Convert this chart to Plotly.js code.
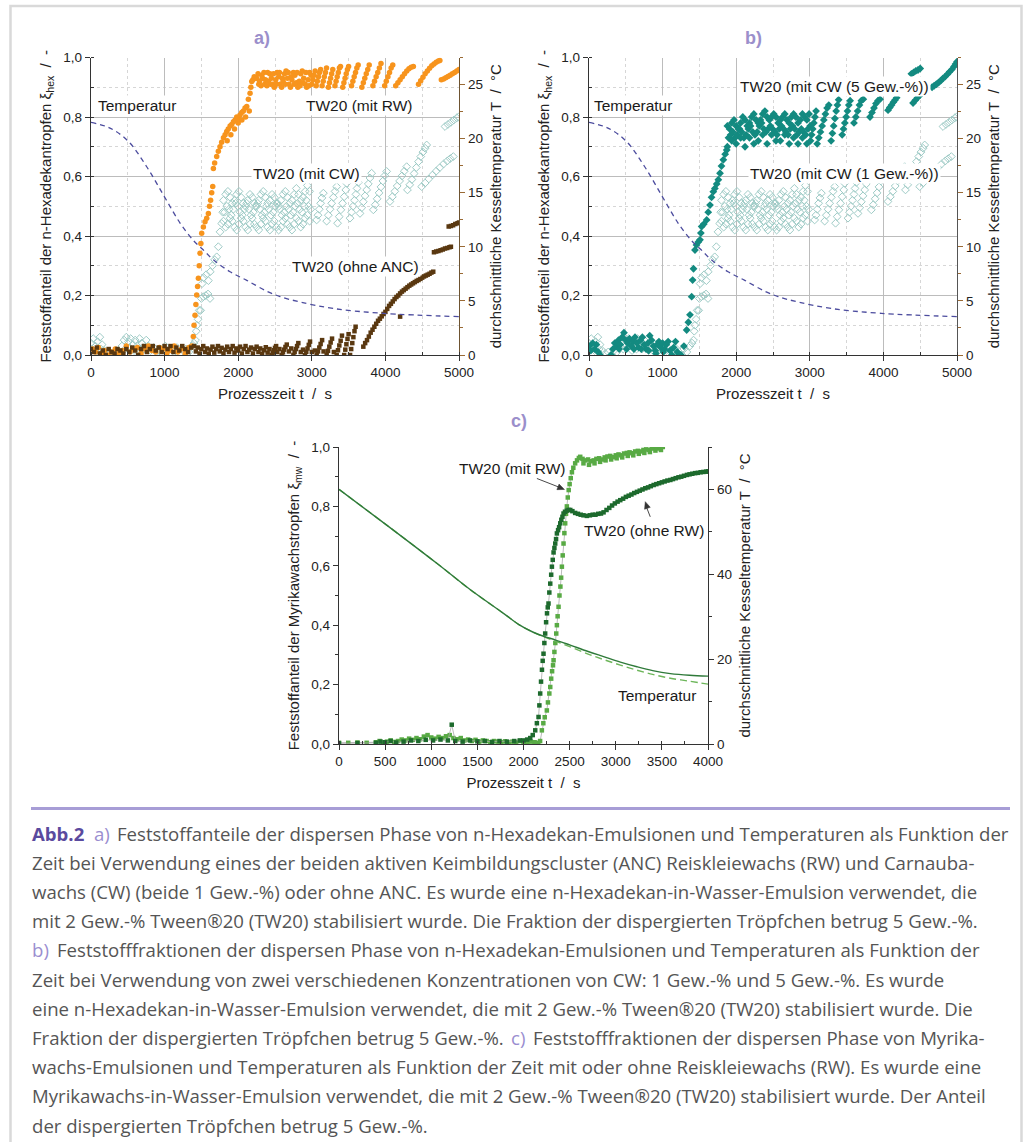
<!DOCTYPE html>
<html><head><meta charset="utf-8">
<script src="https://cdn.plot.ly/plotly-3.0.1.min.js"></script>
<style>html,body{margin:0;padding:0;background:#fff}#chart{width:1032px;height:1142px}</style>
</head><body><div id="chart"></div>
<script>
// ---------- DATA ----------
// a) TW20 (mit RW): [t s, xi_hex]
const A_RW = [[20,.02],[60,.01],[100,.025],[140,.005],[180,.015],[230,0],[280,.01],[330,.02],[380,.005],[430,.015],[480,.03],[530,.01],[580,.02],[630,.025],[680,.005],[730,.02],[780,.03],[830,.015],[880,.01],[930,.025],[980,.02],[1030,.005],[1080,.015],[1130,.03],[1180,.01],[1230,.02],[1280,.005],[1330,.025],[1370,.03],
[1390,.062],[1400,.1],[1413,.134],[1425,.17],[1436,.202],[1448,.23],[1459,.258],[1470,.3],[1481,.342],[1493,.375],[1504,.409],[1527,.43],[1549,.448],[1572,.46],[1595,.476],[1610,.5],[1625,.52],[1640,.545],[1654,.566],[1663,.627],[1680,.645],[1708,.667],[1730,.685],[1753,.7],[1775,.715],[1800,.73],[1822,.74],[1844,.751],[1850,.72],[1865,.76],[1890,.77],[1900,.74],[1912,.775],[1935,.784],[1950,.76],[1958,.79],[1980,.8],[2000,.78],[2003,.795],[2025,.807],[2048,.815],[2050,.79],[2070,.82],[2093,.83],[2100,.8],[2116,.835],[2138,.86],[2150,.82],[2161,.88],[2172,.9],[2184,.919],[2200,.925],[2218,.935],[2235,.93],[2252,.93],
[2270,.945],[2280,.91],[2290,.92],[2310,.905],[2320,.94],[2330,.93],[2350,.95],[2360,.91],[2370,.925],[2390,.905],[2400,.95],[2410,.92],[2430,.945],[2440,.91],[2450,.93],[2470,.91],[2480,.945],[2490,.9],[2510,.925],[2520,.91],[2530,.95],[2550,.935],[2560,.95],[2570,.91],[2590,.9],[2600,.93],[2610,.92],[2630,.945],[2640,.91],[2650,.955],[2670,.93],[2680,.95],[2690,.91],[2710,.9],[2720,.935],[2730,.925],[2750,.95],[2760,.91],[2770,.94],[2790,.915],[2800,.95],[2810,.9],[2830,.92],[2840,.905],[2850,.945],[2870,.955],[2880,.915],[2890,.93],[2910,.91],[2920,.95],[2930,.9],[2950,.925],[2960,.905],[2970,.95],[2990,.94],
[3000,.91],[3015,.925],[3030,.94],[3045,.955],
[3060,.905],[3075,.92],[3090,.935],[3105,.95],[3120,.96],
[3140,.905],[3155,.92],[3170,.935],[3185,.95],[3200,.965],
[3225,.9],[3240,.915],[3255,.93],[3270,.945],[3285,.96],
[3315,.905],[3330,.92],[3345,.935],[3360,.95],[3375,.965],[3390,.97],
[3420,.9],[3436,.915],[3452,.93],[3468,.945],[3484,.96],[3500,.97],
[3540,.905],[3558,.92],[3576,.935],[3594,.95],[3612,.965],[3630,.975],
[3680,.9],[3700,.915],[3720,.93],[3740,.945],[3760,.96],[3780,.975],
[3830,.905],[3852,.92],[3874,.935],[3896,.95],[3918,.965],[3940,.98],
[3990,.905],[4012,.92],[4034,.935],[4056,.95],[4078,.965],[4100,.975],
[4140,.905],[4170,.915],[4200,.925],[4230,.935],[4260,.945],[4290,.955],[4320,.962],[4350,.967],[4380,.97],
[4450,.91],[4480,.922],[4510,.934],[4540,.945],[4570,.955],[4600,.964],[4630,.972],[4660,.978],[4690,.984],[4720,.988],[4740,.99],
[4760,.925],[4790,.928],[4820,.932],[4850,.936],[4880,.94],[4910,.945],[4940,.95],[4970,.955],[5000,.96]];

// a) + b) TW20 (mit CW, 1 Gew.-%)
const CW1 = [[0,.04],[15,.02],[30,.055],[60,.03],[75,.015],[90,.045],[120,.06],[135,.02],[150,.035],[180,.015],[220,.005],[260,.01],[300,0],[340,.015],[380,.01],[420,.03],[450,.05],[465,.02],[480,.06],[510,.045],[525,.025],[540,.055],[570,.035],[585,.015],[600,.05],[630,.03],[645,.02],[660,.055],[690,.04],[705,.025],[720,.02],[750,.05],[780,.03],[810,.015],[850,.025],[890,.01],[930,.02],[970,.005],[1010,.03],[1050,.015],[1090,.02],[1130,.01],[1170,.025],[1210,.005],[1250,.015],[1290,.02],[1330,.01],[1370,.03],
[1400,.04],[1420,.05],[1430,.08],[1440,.1],[1455,.12],[1470,.15],[1490,.15],[1500,.19],[1510,.24],[1527,.196],[1530,.26],[1560,.2],[1565,.27],[1590,.205],[1595,.25],[1617,.19],[1620,.28],[1650,.3],[1680,.32],[1708,.33],[1730,.364],[1753,.414],[1776,.442],[1790,.48],
[1800,.52],[1830,.54],[1860,.55],[1890,.53],[1920,.51],[1950,.52],[1980,.54],[2010,.55],[2040,.53],[2070,.51],[2100,.5],[2130,.52],[2160,.54],[2190,.53],[2220,.51],[2250,.5],[2280,.52],[2310,.54],[2340,.55],[2370,.53],[2400,.51],[2430,.52],[2460,.54],[2490,.53],[2520,.51],[2550,.5],[2580,.52],[2610,.54],[2640,.55],[2670,.53],[2700,.51],[2730,.52],[2760,.54],[2790,.56],[2820,.54],[2850,.52],[2880,.53],[2910,.55],[2940,.57],[2970,.55],
[1815,.48],[1845,.5],[1875,.49],[1905,.47],[1935,.49],[1965,.51],[1995,.5],[2025,.48],[2055,.47],[2085,.49],[2115,.51],[2145,.49],[2175,.47],[2205,.48],[2235,.5],[2265,.51],[2295,.49],[2325,.47],[2355,.48],[2385,.5],[2415,.49],[2445,.47],[2475,.48],[2505,.5],[2535,.51],[2565,.49],[2595,.47],[2625,.48],[2655,.5],[2685,.49],[2715,.47],[2745,.48],[2775,.5],[2805,.51],[2835,.49],[2865,.48],[2895,.5],[2925,.52],[2955,.5],[2985,.49],
[1800,.45],[1830,.43],[1860,.44],[1890,.46],[1920,.45],[1950,.43],[1980,.42],[2010,.44],[2040,.46],[2070,.45],[2100,.43],[2130,.42],[2160,.44],[2190,.46],[2220,.44],[2250,.43],[2280,.42],[2310,.44],[2340,.46],[2370,.45],[2400,.43],[2430,.42],[2460,.44],[2490,.45],[2520,.43],[2550,.42],[2580,.43],[2610,.45],[2640,.46],[2670,.44],[2700,.43],[2730,.42],[2760,.44],[2790,.46],[2820,.45],[2850,.43],[2880,.44],[2910,.46],[2940,.47],[2970,.45],
[3066,.454],[3084,.47],[3102,.49],[3120,.51],[3138,.528],[3157,.544],
[3202,.45],[3225,.47],[3248,.49],[3270,.51],[3293,.53],[3316,.55],[3338,.566],
[3350,.443],[3372,.465],[3395,.488],[3418,.51],[3440,.532],[3462,.555],[3474,.577],
[3519,.46],[3540,.48],[3560,.5],[3580,.52],[3600,.54],[3615,.56],[3632,.58],
[3655,.476],[3678,.495],[3700,.515],[3723,.535],[3746,.555],[3768,.575],[3790,.595],[3813,.611],
[3836,.488],[3862,.505],[3888,.525],[3914,.545],[3940,.565],[3966,.585],[3992,.603],[4017,.617],
[4062,.516],[4095,.532],[4128,.55],[4160,.568],[4193,.585],[4225,.602],[4257,.618],[4289,.633],
[4300,.555],[4330,.572],[4360,.59],[4390,.61],[4420,.63],[4450,.65],[4480,.667],[4510,.682],[4540,.695],[4561,.706],
[4493,.566],[4540,.578],[4590,.592],[4640,.605],[4690,.618],[4740,.63],[4790,.642],[4840,.652],[4880,.66],[4923,.667],
[4810,.768],[4850,.775],[4890,.782],[4930,.79],[4970,.797],[4991,.8]];

// a) TW20 (ohne ANC)
const A_ANC = [[0,.02],[40,.01],[80,.025],[120,.005],[160,.015],[200,0],[240,.02],[280,.01],[320,.005],[360,.02],[400,.015],[440,.005],[480,.02],[520,.01],[560,.025],[600,.015],[640,0],[680,.02],[720,.03],[760,.01],[800,.02],[840,.03],[880,.015],[920,.025],[960,.01],[1000,.03],[1040,.02],[1080,.03],[1120,.01],[1160,.025],[1200,.015],[1240,.03],[1280,.02],[1320,.01],[1360,.025],
[1400,.03],[1425,.012],[1450,.025],[1475,.005],[1500,.02],[1525,.03],[1550,.01],[1575,.022],[1600,.004],[1625,.018],[1650,.028],[1675,.008],[1700,.02],[1725,.03],[1750,.012],[1775,.024],[1800,.005],[1825,.018],[1850,.028],[1875,.01],[1900,.02],[1925,.03],[1950,.008],[1975,.022],[2000,.015],[2025,.028],[2050,.005],[2075,.02],[2100,.03],[2125,.01],[2150,.018],[2175,.025],[2200,.005],[2225,.02],[2250,.028],[2275,.01],[2300,.022],[2325,.004],[2350,.016],[2375,.026],[2400,.008],[2425,.02],
[2530,.01],[2560,.02],[2690,.012],[2720,.022],[2850,.01],[2880,.018],[3000,.01],[3040,.015],[3160,.012],[3300,.01],
[2455,0],[2470,.008],[2485,.016],[2500,.024],[2515,.03],
[2590,0],[2608,.009],[2625,.018],[2642,.027],[2660,.035],
[2750,0],[2767,.01],[2784,.02],[2800,.03],[2817,.04],
[2908,0],[2925,.011],[2942,.022],[2959,.034],[2976,.045],
[3066,0],[3084,.012],[3102,.025],[3120,.037],[3140,.05],
[3202,0],[3220,.014],[3238,.028],[3256,.042],[3275,.055],
[3338,0],[3356,.016],[3374,.032],[3392,.048],[3410,.065],
[3440,0],[3455,.018],[3470,.036],[3485,.054],[3500,.07],
[3520,0],[3535,.02],[3550,.04],[3565,.06],[3580,.08],[3595,.095],
[3700,.028],[3725,.04],[3750,.05],[3775,.062],[3800,.075],[3825,.085],[3850,.095],[3875,.105],[3900,.115],[3925,.122],[3950,.13],[3975,.138],[4000,.145],[4025,.155],[4050,.165],[4075,.172],[4100,.18],[4125,.188],[4150,.195],[4175,.2],[4200,.207],[4225,.213],[4250,.218],[4275,.223],[4300,.228],[4325,.233],[4350,.237],[4375,.241],[4400,.245],[4425,.249],[4450,.252],[4475,.256],[4500,.26],[4525,.264],[4550,.267],[4575,.27],[4600,.273],[4625,.277],[4650,.28],
[4200,.129],
[4660,.345],[4690,.348],[4720,.35],[4750,.352],[4780,.355],[4810,.358],[4840,.36],[4870,.362],[4890,.364],
[4860,.432],[4890,.434],[4920,.436],[4950,.44],[4980,.443],[5000,.445]];

// b) TW20 (mit CW, 5 Gew.-%)
const CW5 = [[0,.03],[25,.015],[50,.04],[75,.02],[100,.035],[125,.01],[150,0],[300,0],[325,.02],[350,.04],[375,.03],[400,.05],[425,.035],[450,.06],[475,.075],[500,.05],[525,.04],[550,.055],[575,.03],[600,.045],[625,.06],[650,.04],[675,.025],[700,.05],[725,.06],[750,.035],[775,.02],[800,.04],[825,.065],[850,.05],[875,.03],[900,.015],[925,.035],[950,.045],[975,.025],[1000,.04],[1025,.02],[1050,.035],[1075,.045],[1100,.015],[1125,0],[1150,.025],[1175,.045],[1200,.01],[1225,0],
[410,.02],[510,.02],[610,.02],[710,.02],[810,.015],[910,.005],[1010,.01],
[1250,0],[1290,.03],[1327,.084],[1350,.11],[1372,.135],[1395,.196],[1408,.252],[1420,.29],[1440,.353],[1460,.37],[1485,.38],[1508,.387],[1520,.41],[1531,.432],[1560,.44],[1599,.454],[1620,.48],[1644,.504],[1665,.53],[1689,.549],[1710,.56],[1735,.575],[1757,.589],[1780,.611],[1800,.635],[1825,.656],[1850,.675],[1871,.689],
[1880,.77],[1910,.76],[1940,.78],[1970,.79],[2000,.77],[2030,.76],[2060,.78],[2090,.8],[2120,.79],[2150,.77],[2180,.78],[2210,.8],[2240,.81],[2270,.79],[2300,.78],[2330,.79],[2360,.81],[2390,.82],[2420,.8],[2450,.79],[2480,.8],[2510,.81],[2540,.8],[2570,.78],[2600,.79],[2630,.8],[2660,.81],[2690,.79],[2720,.78],[2750,.8],[2780,.81],[2810,.8],[2840,.78],[2870,.79],[2900,.81],[2930,.8],[2960,.79],[2990,.81],
[1895,.73],[1925,.74],[1955,.75],[1985,.73],[2015,.74],[2045,.76],[2075,.75],[2105,.73],[2135,.74],[2165,.76],[2195,.77],[2225,.75],[2255,.74],[2285,.75],[2315,.77],[2345,.78],[2375,.76],[2405,.75],[2435,.76],[2465,.77],[2495,.76],[2525,.75],[2555,.74],[2585,.76],[2615,.77],[2645,.76],[2675,.75],[2705,.74],[2735,.76],[2765,.77],[2795,.76],[2825,.74],[2855,.75],[2885,.76],[2915,.75],[2945,.74],[2975,.76],[3005,.77],
[1880,.7],[1940,.72],[2000,.71],[2060,.73],[2120,.7],[2180,.73],[2240,.71],[2300,.72],[2360,.74],[2420,.71],[2480,.74],[2540,.72],[2600,.72],[2660,.74],[2720,.71],[2780,.73],[2840,.71],[2900,.73],[2960,.71],
[3010,.72],[3025,.74],[3040,.76],[3055,.78],[3070,.8],[3085,.82],
[3100,.71],[3122,.73],[3145,.75],[3168,.77],[3190,.79],[3212,.81],[3235,.83],[3258,.84],
[3290,.72],[3307,.745],[3324,.77],[3341,.795],[3358,.82],[3375,.84],[3392,.858],
[3440,.74],[3458,.76],[3476,.78],[3494,.8],[3512,.82],[3530,.84],[3548,.855],
[3600,.78],[3625,.8],[3650,.82],[3675,.84],[3700,.855],[3727,.86],
[3818,.8],[3845,.815],[3872,.83],[3899,.845],[3926,.855],[3954,.86],
[4063,.823],[4087,.832],[4111,.84],[4135,.85],[4158,.857],[4180,.865],
[4403,.847],[4433,.856],[4463,.865],[4494,.873],[4525,.88],
[4380,.945],[4410,.95],[4440,.955],[4470,.958],[4500,.963],
[4661,.9],[4690,.905],[4720,.91],[4750,.916],[4780,.922],[4810,.93],[4840,.936],[4870,.944],[4900,.952],[4930,.96],[4960,.97],[4980,.978],[5000,.986]];

// a) + b) Temperatur [t s, T °C]
const T_AB = [[0,21.5],[250,21.0],[500,19.8],[757,17.4],[1000,14.6],[1210,12.2],[1390,10.6],[1527,9.7],[1663,8.8],[1889,7.7],[2116,6.9],[2388,5.9],[2569,5.4],[2840,4.9],[3293,4.3],[3973,3.85],[5000,3.55]];

// c) TW20 (mit RW) [t s, xi_mw]
const C_RW = [[0,.004],[100,.004],[200,.005],[300,.004],[400,.006],[440,.01],[480,.005],[520,.008],[560,.012],[600,.007],[640,.01],[680,.015],[720,.012],[760,.018],[800,.014],[840,.02],[880,.016],[920,.025],[960,.03],[1000,.022],[1040,.018],[1080,.024],[1120,.02],[1160,.026],[1200,.03],[1240,.02],[1280,.016],[1320,.02],[1360,.012],[1400,.015],[1440,.01],[1480,.014],[1520,.008],[1560,.012],[1600,.01],[1640,.006],[1680,.01],[1720,.008],[1760,.006],[1800,.009],[1840,.005],[1880,.008],[1920,.006],[1960,.01],[2000,.007],[2040,.005],[2080,.008],[2120,.006],[2160,.004],
[2180,.01],[2199,.046],[2215,.07],[2230,.09],[2253,.113],[2265,.14],[2280,.17],[2290,.192],[2300,.22],[2310,.245],[2320,.265],[2326,.282],[2335,.31],[2345,.34],[2355,.372],[2362,.4],[2370,.43],[2380,.462],[2390,.5],[2400,.53],[2408,.56],[2416,.597],[2425,.635],[2434,.675],[2443,.71],[2452,.743],[2461,.775],[2470,.8],[2480,.83],[2490,.855],[2500,.875],[2512,.895],[2525,.915],[2540,.93],[2560,.945],[2580,.955],[2600,.963],[2615,.967],
[2640,.96],[2650,.945],[2670,.955],[2700,.958],[2710,.94],[2730,.952],[2760,.955],[2770,.945],[2790,.96],[2820,.962],[2830,.95],[2850,.958],[2880,.965],[2890,.955],[2910,.968],[2940,.97],[2950,.958],[2970,.966],[3000,.972],[3010,.962],[3030,.975],[3060,.972],[3070,.965],[3090,.978],[3120,.98],[3130,.97],[3150,.982],[3180,.979],[3190,.972],[3210,.985],[3240,.987],[3250,.977],[3270,.985],[3300,.99],[3310,.98],[3330,.992],[3360,.99],[3370,.983],[3390,.995],[3420,.997],[3430,.988],[3450,.995],[3480,.999],[3490,.99],[3510,1.0]];

// c) TW20 (ohne RW)
const C_oRW = [[0,.002],[200,.003],[400,.004],[450,.008],[500,.006],[560,.01],[620,.005],[700,.008],[780,.012],[860,.01],[940,.014],[1020,.012],[1100,.015],[1180,.012],[1222,.065],[1260,.01],[1340,.008],[1420,.012],[1500,.009],[1580,.01],[1660,.007],[1740,.01],[1820,.008],[1900,.01],[1960,.012],[2000,.012],[2040,.015],
[2073,.02],[2100,.03],[2127,.046],[2145,.07],[2163,.091],[2172,.13],[2181,.17],[2190,.21],[2200,.25],[2208,.28],[2217,.304],[2226,.34],[2235,.372],[2245,.41],[2255,.44],[2263,.46],[2271,.473],[2280,.51],[2290,.54],[2300,.57],[2308,.597],[2317,.62],[2326,.645],[2335,.66],[2344,.675],[2353,.69],[2362,.709],[2375,.72],[2386,.73],[2398,.743],[2410,.755],[2422,.765],[2434,.776],[2450,.782],[2470,.786],[2490,.788],[2507,.788],
[2530,.784],[2560,.778],[2590,.775],[2620,.772],[2650,.77],[2687,.768],[2720,.77],[2750,.772],[2780,.772],[2810,.775],[2840,.776],[2868,.78],[2900,.788],[2930,.795],[2960,.803],[2990,.81],[3020,.816],[3049,.821],[3080,.826],[3110,.832],[3140,.836],[3170,.84],[3200,.845],[3230,.849],[3260,.853],[3290,.857],[3320,.861],[3350,.864],[3380,.868],[3411,.872],[3440,.875],[3470,.878],[3500,.881],[3530,.884],[3560,.887],[3592,.889],[3620,.892],[3650,.895],[3680,.898],[3710,.9],[3740,.903],[3772,.906],[3800,.908],[3830,.91],[3860,.912],[3890,.913],[3920,.915],[3950,.916],[3980,.917],[4000,.918]];

// c) Temperatur (solid / dashed) [t s, T °C]
const T_C1 = [[0,60],[517,51.6],[1060,42.6],[1421,36.4],[1783,30.8],[1946,28.2],[2100,26.4],[2217,25.4],[2350,24.5],[2507,23.3],[2700,21.8],[2868,20.6],[3050,19.3],[3230,18.2],[3400,17.3],[3592,16.6],[3800,16.2],[4000,16.0]];
const T_C2 = [[0,60],[517,51.6],[1060,42.6],[1421,36.4],[1783,30.8],[1946,28.2],[2100,26.4],[2217,25.3],[2350,24.2],[2507,22.9],[2700,21.2],[2868,19.9],[3050,18.6],[3230,17.4],[3400,16.4],[3592,15.5],[3800,14.8],[4000,14.1]];

// caption pieces: [line index, x-start px, kind, text]
const CAPTION_PIECES = [
 [0, 30, 'abb', 'Abb.2'],
 [0, 92, 'key', 'a)'],
 [0, 115, 'txt', 'Feststoffanteile der dispersen Phase von n-Hexadekan-Emulsionen und Temperaturen als Funktion der'],
 [1, 30, 'txt', 'Zeit bei Verwendung eines der beiden aktiven Keimbildungscluster (ANC) Reiskleiewachs (RW) und Carnauba-'],
 [2, 30, 'txt', 'wachs (CW) (beide 1 Gew.-%) oder ohne ANC. Es wurde eine n-Hexadekan-in-Wasser-Emulsion verwendet, die'],
 [3, 30, 'txt', 'mit 2 Gew.-% Tween®20 (TW20) stabilisiert wurde. Die Fraktion der dispergierten Tröpfchen betrug 5 Gew.-%.'],
 [4, 30, 'key', 'b)'],
 [4, 55, 'txt', 'Feststofffraktionen der dispersen Phase von n-Hexadekan-Emulsionen und Temperaturen als Funktion der'],
 [5, 30, 'txt', 'Zeit bei Verwendung von zwei verschiedenen Konzentrationen von CW: 1 Gew.-% und 5 Gew.-%. Es wurde'],
 [6, 30, 'txt', 'eine n-Hexadekan-in-Wasser-Emulsion verwendet, die mit 2 Gew.-% Tween®20 (TW20) stabilisiert wurde. Die'],
 [7, 30, 'txt', 'Fraktion der dispergierten Tröpfchen betrug 5 Gew.-%.'],
 [7, 509, 'key', 'c)'],
 [7, 531, 'txt', 'Feststofffraktionen der dispersen Phase von Myrika-'],
 [8, 30, 'txt', 'wachs-Emulsionen und Temperaturen als Funktion der Zeit mit oder ohne Reiskleiewachs (RW). Es wurde eine'],
 [9, 30, 'txt', 'Myrikawachs-in-Wasser-Emulsion verwendet, die mit 2 Gew.-% Tween®20 (TW20) stabilisiert wurde. Der Anteil'],
 [10, 30, 'txt', 'der dispergierten Tröpfchen betrug 5 Gew.-%.']
];

// ---------- BUILD ----------
const W = 1032, H = 1142;
const PX = p => p / W, PY = p => 1 - p / H;
const xs = a => a.map(d => d[0]), ys = a => a.map(d => d[1]);
const FONT = 'Liberation Sans, Arial, sans-serif';
const NB = '\u00a0';

function pts(arr, xa, ya, color, symbol, size, extra) {
  return Object.assign({type:'scatter', mode:'markers', x: xs(arr), y: ys(arr), xaxis: xa, yaxis: ya,
    marker:{color: color, symbol: symbol, size: size, line:{width: symbol.indexOf('open')>=0 ? 1 : 0, color: color}},
    hoverinfo:'skip', cliponaxis:true}, extra || {});
}
const tempLine = (arr, xa, ya, color, dash, width) => ({type:'scatter', mode:'lines', x: xs(arr), y: ys(arr), xaxis: xa, yaxis: ya,
  line:{color: color, dash: dash, width: width, shape:'spline', smoothing:1}, hoverinfo:'skip'});

const ORANGE = '#f7941d', LTEAL = '#9ecbc6', BROWN = '#5a3810', TEAL = '#138a80', NAVY = '#4c4c9e';
const LGREEN = '#58aa44', DGREEN = '#1d6a2d';

const data = [
  pts(CW1, 'x', 'y', LTEAL, 'diamond-open', 6),
  pts(A_RW, 'x', 'y', ORANGE, 'circle', 5.5),
  pts(A_ANC, 'x', 'y', BROWN, 'square', 4.5),
  tempLine(T_AB, 'x', 'y2', NAVY, '5px,4px', 1.3),

  pts(CW1, 'x2', 'y3', LTEAL, 'diamond-open', 6),
  pts(CW5, 'x2', 'y3', TEAL, 'diamond', 6),
  tempLine(T_AB, 'x2', 'y4', NAVY, '5px,4px', 1.3),

  tempLine(T_C2, 'x3', 'y6', '#6db65a', '7px,4px', 1.4),
  tempLine(T_C1, 'x3', 'y6', '#2f7a3a', 'solid', 1.4),
  Object.assign(pts(C_RW, 'x3', 'y5', LGREEN, 'square', 4.5), {mode:'lines+markers', line:{color:'#a8a8a8', width:0.8}}),
  Object.assign(pts(C_oRW, 'x3', 'y5', DGREEN, 'square', 4.5), {mode:'lines+markers', line:{color:'#a8a8a8', width:0.8}})
];

const tickfont = {family: FONT, size: 13.5, color: '#222'};
const titlefont = {family: FONT, size: 15, color: '#222'};
const AX = '#333';

function xBottom(dom, anchor, rng, dt, mdt, grid) {
  return {domain: dom, anchor: anchor, range: rng, dtick: dt, tick0: 0, ticks:'outside', ticklen:5, tickwidth:1, tickcolor: AX,
    showline:true, linecolor: AX, linewidth:1.2, zeroline:false, showgrid: grid, gridcolor:'#bcbcbc', gridwidth:1,
    minor:{dtick: mdt, tick0:0, ticks:'inside', ticklen:3, tickcolor: AX, showgrid: grid, gridcolor:'#d6d6d6', griddash:'dot', gridwidth:1},
    tickfont: tickfont, fixedrange:true,
    title:{text:'Prozesszeit t' + NB + NB + '/' + NB + NB + 's', font: titlefont, standoff: 9}};
}
function xTop(over, anchor, rng, dt, mdt) {
  return {overlaying: over, side:'top', anchor: anchor, range: rng, dtick: dt, tick0:0, ticks:'inside', ticklen:4, tickcolor: AX,
    showline:true, linecolor: AX, linewidth:1.2, showticklabels:false, showgrid:false, zeroline:false,
    minor:{dtick: mdt, tick0:0, ticks:'inside', ticklen:4, tickcolor: AX}};
}
function yLeft(dom, anchor, title, grid) {
  return {domain: dom, anchor: anchor, range:[0,1], dtick:0.2, tick0:0, tickformat:'.1f', ticks:'outside', ticklen:5, tickcolor: AX,
    showline:true, linecolor: AX, linewidth:1.2, zeroline:false, showgrid: grid, gridcolor:'#bcbcbc', gridwidth:1,
    minor:{dtick:0.1, tick0:0, ticks: grid ? 'inside' : 'outside', ticklen:3, tickcolor: AX, showgrid: grid, gridcolor:'#d6d6d6', griddash:'dot'},
    tickfont: tickfont, fixedrange:true, title:{text: title, font: titlefont, standoff: 8}};
}
function yRight(over, anchor, rng, dt, mdt, col, lcol) {
  return {overlaying: over, side:'right', anchor: anchor, range: rng, dtick: dt, tick0:0, ticks:'outside', ticklen:5, tickcolor: col,
    showline:true, linecolor: lcol, linewidth:1.2, zeroline:false, showgrid:false,
    minor:{dtick: mdt, tick0:0, ticks:'outside', ticklen:3, tickcolor: col},
    tickfont: tickfont, fixedrange:true,
    title:{text:'durchschnittliche Kesseltemperatur T' + NB + NB + '/' + NB + NB + '°C', font: titlefont, standoff: 8}};
}

const domA = [PX(91), PX(459)], domB = [PX(589), PX(957)], domC = [PX(339), PX(708)];
const domAB_y = [PY(355), PY(57.5)], domC_y = [PY(744), PY(447)];
const titleHex = 'Feststoffanteil der n-Hexadekantropfen ξ<sub>hex</sub>' + NB + NB + '/' + NB + NB + '-';
const titleMw = 'Feststoffanteil der Myrikawachstropfen ξ<sub>mw</sub>' + NB + NB + '/' + NB + NB + '-';

const layout = {
  width: W, height: H, margin:{l:0, r:0, t:0, b:0}, paper_bgcolor:'#ffffff', plot_bgcolor:'#ffffff',
  showlegend:false, separators:',.', font:{family: FONT, color:'#222'},
  xaxis: xBottom(domA, 'y', [0,5000], 1000, 500, true),
  yaxis: yLeft(domAB_y, 'x', titleHex, true),
  yaxis2: yRight('y', 'x', [0,27.5], 5, 2.5, '#9a6a35', '#6e5431'),
  xaxis2: xBottom(domB, 'y3', [0,5000], 1000, 500, true),
  yaxis3: yLeft(domAB_y, 'x2', titleHex, true),
  yaxis4: yRight('y3', 'x2', [0,27.5], 5, 2.5, '#9a6a35', '#555'),
  xaxis3: xBottom(domC, 'y5', [0,4000], 500, 250, false),
  yaxis5: yLeft(domC_y, 'x3', titleMw, false),
  yaxis6: yRight('y5', 'x3', [0,70], 20, 10, AX, AX),
  xaxis4: xTop('x', 'y', [0,5000], 1000, 500),
  xaxis5: xTop('x2', 'y3', [0,5000], 1000, 500),
  xaxis6: xTop('x3', 'y5', [0,4000], 500, 250),
  shapes: [
    {type:'rect', xref:'paper', yref:'paper', x0: PX(10.5), x1: PX(1021.5), y0: PY(1160), y1: PY(6), line:{color:'#d9d9d9', width:2.5}, layer:'below'},
    {type:'line', xref:'paper', yref:'paper', x0: PX(31), x1: PX(1010), y0: PY(808.5), y1: PY(808.5), line:{color:'#a79dd6', width:3}},
    // arrow shafts and heads for panel c labels
    {type:'line', xref:'x3', yref:'y5', x0: 2145, y0: 0.894, x1: 2400, y1: 0.863, line:{color:'#333', width:0.9}},
    {type:'path', xref:'x3', yref:'y5', xsizemode:'pixel', ysizemode:'pixel', xanchor: 2444, yanchor: 0.857,
      path:'M 0 0 L -5.4 5.4 L -7.6 -0.2 Z', fillcolor:'#333', line:{color:'#333', width:0.5}},
    {type:'line', xref:'x3', yref:'y5', x0: 3374, y0: 0.765, x1: 3330, y1: 0.8, line:{color:'#333', width:0.9}},
    {type:'path', xref:'x3', yref:'y5', xsizemode:'pixel', ysizemode:'pixel', xanchor: 3320, yanchor: 0.816,
      path:'M 0 0 L 5.0 -5.7 L -0.7 -7.6 Z', fillcolor:'#333', line:{color:'#333', width:0.5}}
  ],
  annotations: []
};

const ann = layout.annotations;
const labFont = {family: FONT, size: 15.5, color: '#1a1a1a'};
function lab(text, xr, yr, x, y, bg) {
  ann.push({text: text, xref: xr, yref: yr, x: x, y: y, xanchor:'center', yanchor:'middle', showarrow:false, font: labFont, bgcolor: bg || 'rgba(0,0,0,0)', borderpad:1});
}
// panel letters
[['a)', 262, 37.5], ['b)', 753, 37.5], ['c)', 519, 421]].forEach(p => ann.push({text: p[0], xref:'paper', yref:'paper', x: PX(p[1]), y: PY(p[2]),
  xanchor:'center', yanchor:'middle', showarrow:false, font:{family: FONT, size: 18, color:'#9b8fcb', weight:'bold'}}));
// a)
lab('Temperatur', 'x', 'y', 621, 0.84, '#fff');
lab('TW20 (mit RW)', 'x', 'y', 3641, 0.84, '#fff');
lab('TW20 (mit CW)', 'x', 'y', 2931, 0.611, '#fff');
lab('TW20 (ohne ANC)', 'x', 'y', 3587, 0.297, '#fff');
// b)
lab('Temperatur', 'x2', 'y3', 602, 0.84, '#fff');
lab('TW20 (mit CW (5 Gew.-%))', 'x2', 'y3', 3342, 0.902, '#fff');
lab('TW20 (mit CW (1 Gew.-%))', 'x2', 'y3', 3478, 0.611, '#fff');
// c)
lab('TW20 (mit RW)', 'x3', 'y5', 1874, 0.928);
lab('TW20 (ohne RW)', 'x3', 'y5', 3301, 0.718);
lab('Temperatur', 'x3', 'y5', 3447, 0.164);

// caption
const CAP_STYLE = {
  txt: {family:'Open Sans, Noto Sans, sans-serif', size: 18.6, color:'#555'},
  key: {family:'Open Sans, Noto Sans, sans-serif', size: 18.6, color:'#9a8ed0'},
  abb: {family:'Open Sans, Noto Sans, sans-serif', size: 18.6, color:'#5a4a9e', weight:'bold'}
};
CAPTION_PIECES.forEach(p => ann.push({text: p[3], xref:'paper', yref:'paper', x: PX(p[1]), y: PY(833 + p[0] * 29.2), xanchor:'left', yanchor:'middle',
  showarrow:false, align:'left', font: CAP_STYLE[p[2]]}));

Plotly.newPlot('chart', data, layout, {staticPlot:true, displayModeBar:false});
</script>
</body></html>
